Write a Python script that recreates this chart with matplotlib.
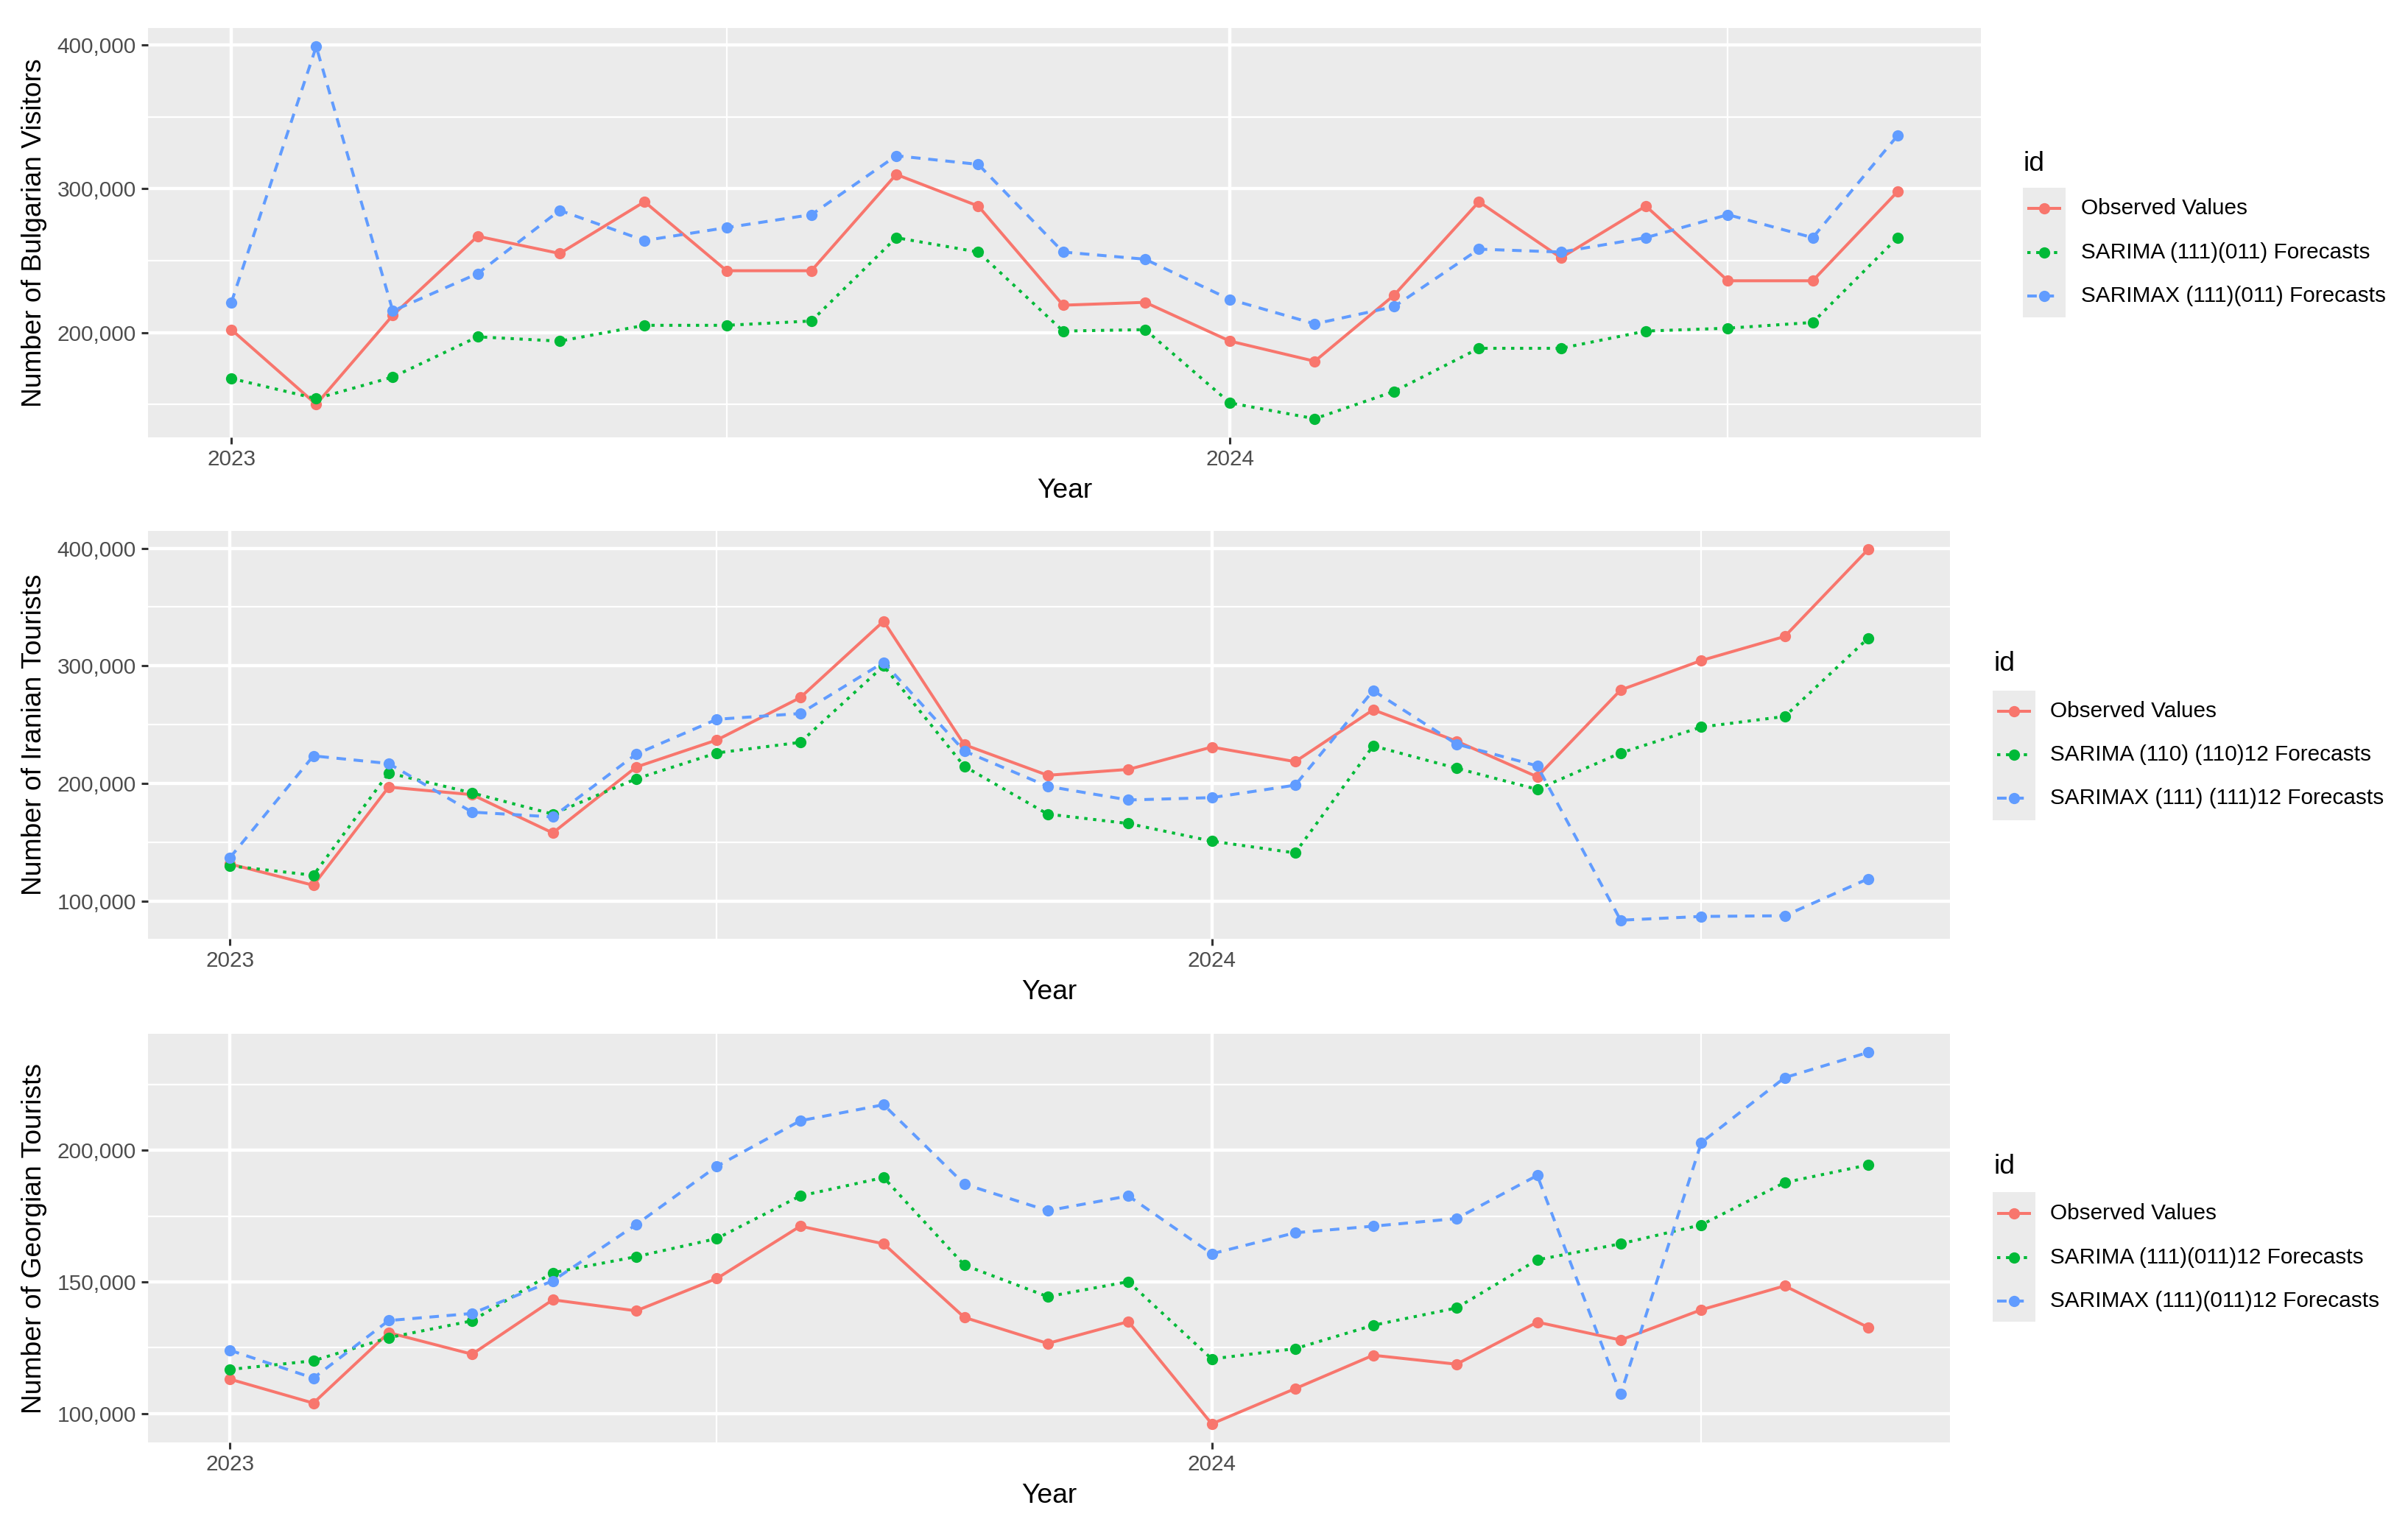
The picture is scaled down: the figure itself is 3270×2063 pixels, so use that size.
import numpy as np
import pandas as pd
import matplotlib
matplotlib.use("Agg")
import matplotlib.pyplot as plt
import matplotlib.dates as mdates
from matplotlib.ticker import FuncFormatter, MultipleLocator
from matplotlib.lines import Line2D
from matplotlib.patches import Rectangle

plt.rcParams['font.family'] = ['Liberation Sans', 'DejaVu Sans']

# Monthly observations, Jan 2023 - Sep 2024
months = pd.date_range('2023-01-01', periods=21, freq='MS')

# Bulgarian visitors (thousands)
bg_obs = [202, 150, 212, 267, 255, 291, 243, 243, 310, 288, 219,
          221, 194, 180, 226, 291, 252, 288, 236, 236, 298]
bg_sarima = [168, 154, 169, 197, 194, 205, 205, 208, 266, 256, 201,
             202, 151, 140, 159, 189, 189, 201, 203, 207, 266]
bg_sarimax = [221, 399, 215, 241, 285, 264, 273, 282, 323, 317, 256,
              251, 223, 206, 218, 258, 256, 266, 282, 266, 337]

# Iranian tourists (thousands)
ir_obs = [131.6, 113.5, 197, 190.5, 158, 214, 237, 273, 338, 233, 207,
          212, 231, 218.6, 262.7, 236, 205.7, 279.5, 304.6, 325, 399]
ir_sarima = [130, 122, 209, 192, 174, 204, 226, 235, 300, 214.6, 174,
             166, 151, 141, 232, 213, 195, 226, 248, 257, 323.5]
ir_sarimax = [137, 223.5, 217, 175.7, 171.6, 225, 254.6, 259.5, 303, 227.6, 197.6,
              186, 188, 198.6, 279, 233.5, 215, 83.8, 87, 87.6, 119]

# Georgian tourists (thousands)
ge_obs = [113, 103.9, 130.7, 122.5, 143.2, 139, 151.3, 171.2, 164.5, 136.5, 126.6,
          134.9, 96, 109.4, 122.1, 118.7, 134.7, 127.9, 139.4, 148.5, 132.7]
ge_sarima = [116.7, 120, 128.8, 135.2, 153.5, 159.6, 166.5, 182.7, 189.7, 156.4, 144.4,
             150.1, 120.7, 124.6, 133.5, 140.1, 158.4, 164.5, 171.7, 187.8, 194.5]
ge_sarimax = [124, 113.4, 135.3, 138, 150.4, 171.8, 194, 211.3, 217.4, 187.2, 177.1,
              182.7, 160.7, 168.7, 171.2, 174.1, 190.5, 107.3, 203, 227.7, 237.3]

labels_bg = ['Observed Values', 'SARIMA (111)(011) Forecasts', 'SARIMAX (111)(011) Forecasts']
labels_ir = ['Observed Values', 'SARIMA (110) (110)12 Forecasts', 'SARIMAX (111) (111)12 Forecasts']
labels_ge = ['Observed Values', 'SARIMA (111)(011)12 Forecasts', 'SARIMAX (111)(011)12 Forecasts']

colors = ['#F8766D', '#00BA38', '#619CFF']
dashes = [None, (1.1, 1.9), (3.2, 2.6)]

W, H = 3270, 2063
fig = plt.figure(figsize=(W / 200, H / 200), dpi=200)

LW = 1.45
MS = 5.5


def px(x, y):
    return x / W, 1 - y / H


def draw_panel(rect, series, ylabel, major, minor):
    ax = fig.add_axes(rect)
    ax.set_facecolor('#EBEBEB')
    for vals, c, d in zip(series, colors, dashes):
        y = np.array(vals) * 1000
        line, = ax.plot(months, y, color=c, lw=LW, marker='o', ms=MS,
                        markeredgewidth=0, solid_capstyle='butt', dash_capstyle='butt')
        if d is not None:
            line.set_dashes(d)
    ax.margins(0.05)
    ax.xaxis.set_major_locator(mdates.YearLocator())
    ax.xaxis.set_minor_locator(mdates.MonthLocator(bymonth=7))
    ax.xaxis.set_major_formatter(mdates.DateFormatter('%Y'))
    ax.yaxis.set_major_locator(MultipleLocator(major))
    ax.yaxis.set_minor_locator(MultipleLocator(minor))
    ax.yaxis.set_major_formatter(FuncFormatter(lambda v, p: f'{v:,.0f}'))
    ax.grid(which='major', color='white', lw=1.6)
    ax.grid(which='minor', color='white', lw=0.8)
    ax.set_axisbelow(True)
    for s in ax.spines.values():
        s.set_visible(False)
    ax.tick_params(which='major', length=3.3, width=1.1, color='#333333',
                   labelsize=10.7, labelcolor='#4D4D4D', pad=2.5)
    ax.tick_params(which='minor', length=0)
    ax.set_xlabel('Year', fontsize=13.4, labelpad=4)
    ax.set_ylabel(ylabel, fontsize=13.4, labelpad=5)
    return ax


def draw_legend(tx, ty, box_left, box_top, entry_ys, label_x, labels):
    fig.text(*px(tx, ty), 'id', fontsize=13.4, ha='left', va='center')
    key_w = 58
    box_bottom = box_top + 176
    x0, y0 = px(box_left, box_bottom)
    fig.add_artist(Rectangle((x0, y0), key_w / W, 176 / H, transform=fig.transFigure,
                             facecolor='#EBEBEB', edgecolor='none'))
    for ey, c, d, lab in zip(entry_ys, colors, dashes, labels):
        xa, ya = px(box_left + 6, ey)
        xb, _ = px(box_left + key_w - 6, ey)
        xm, _ = px(box_left + key_w / 2, ey)
        ln = Line2D([xa, xb], [ya, ya], transform=fig.transFigure, color=c, lw=LW,
                    solid_capstyle='butt', dash_capstyle='butt')
        if d is not None:
            ln.set_dashes(d)
        fig.add_artist(ln)
        fig.add_artist(Line2D([xm], [ya], transform=fig.transFigure, color=c,
                              marker='o', ms=MS, markeredgewidth=0, lw=0))
        fig.text(*px(label_x, ey), lab, fontsize=10.7, ha='left', va='center')


ax1 = draw_panel([0.0615, 0.7121, 0.7611, 0.2695],
                 [bg_obs, bg_sarima, bg_sarimax], 'Number of Bulgarian Visitors', 100000, 50000)
ax2 = draw_panel([0.0615, 0.3820, 0.7483, 0.2685],
                 [ir_obs, ir_sarima, ir_sarimax], 'Number of Iranian Tourists', 100000, 50000)
ax3 = draw_panel([0.0615, 0.0504, 0.7483, 0.2690],
                 [ge_obs, ge_sarima, ge_sarimax], 'Number of Georgian Tourists', 50000, 25000)

draw_legend(2747, 222, 2747, 255, [283, 343, 402], 2826, labels_bg)
draw_legend(2707, 902, 2706, 938, [966, 1025, 1084], 2784, labels_ir)
draw_legend(2707, 1585, 2706, 1619, [1648, 1708, 1767], 2784, labels_ge)

fig.savefig('out.png', dpi=200, facecolor='white')
